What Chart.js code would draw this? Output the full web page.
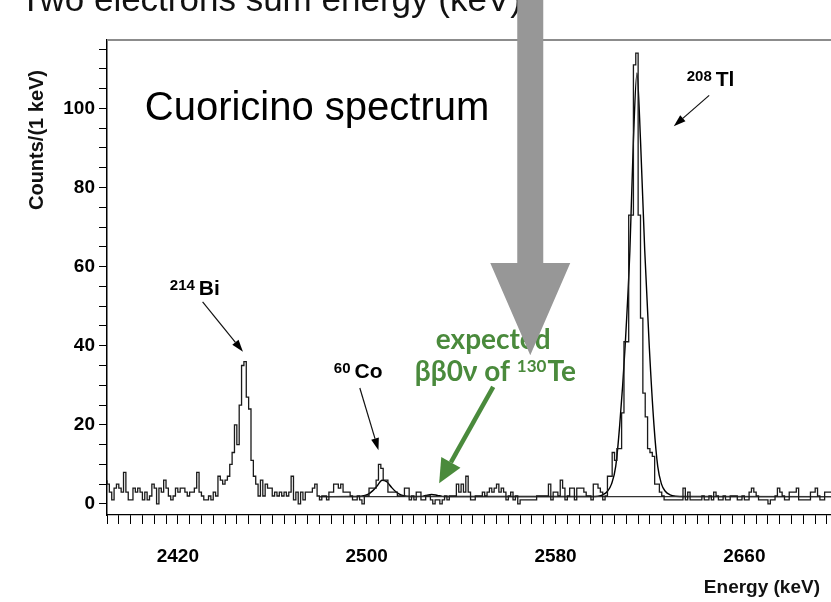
<!DOCTYPE html>
<html>
<head>
<meta charset="utf-8">
<title>Cuoricino spectrum</title>
<script src="https://cdn.jsdelivr.net/npm/chart.js@4/dist/chart.umd.min.js"></script>
<style>
  html, body { margin: 0; padding: 0; background: #fff; overflow: hidden; }
  canvas { display: block; }
</style>
</head>
<body>
<canvas id="spectrum" width="831" height="602"></canvas>
<script>
// histogram: 1 keV bins starting at binStart
const binStart = 2390;
const counts = [
  6, 5, 3, 1, 4, 5, 4, 3, 8, 3,        // 2390
  1, 1, 4, 3, 4, 3, 1, 3, 1, 2,        // 2400
  5, 4, 0, 4, 3, 6, 4, 2, 1, 2,        // 2410
  4, 3, 4, 4, 3, 2, 3, 3, 4, 8,        // 2420
  3, 2, 1, 1, 2, 1, 3, 2, 7, 6,        // 2430
  5, 6, 7, 10, 13, 20, 15, 25, 35, 36, // 2440
  27, 24, 11, 7, 5, 2, 6, 2, 5, 4,     // 2450
  4, 2, 3, 2, 3, 2, 3, 2, 3, 7,        // 2460
  1, 3, 0, 3, 1, 3, 3, 3, 4, 5,        // 2470
  2, 1, 2, 2, 1, 3, 3, 5, 5, 4,        // 2480
  5, 3, 3, 3, 2, 1, 1, 2, 1, 0,        // 2490
  2, 2, 4, 4, 4, 6, 10, 9, 6, 6,       // 2500
  3, 3, 3, 3, 2, 2, 2, 4, 4, 1,        // 2510
  2, 1, 3, 3, 1, 1, 2, 2, 1, 0,        // 2520
  1, 1, 0, 1, 2, 1, 2, 2, 2, 5,        // 2530
  3, 5, 3, 7, 3, 1, 1, 2, 2, 2,        // 2540
  3, 2, 3, 4, 3, 4, 5, 3, 4, 3,        // 2550
  1, 2, 3, 1, 2, 0, 1, 1, 1, 1,        // 2560
  1, 1, 1, 2, 2, 2, 2, 2, 5, 1,        // 2570
  3, 3, 2, 6, 4, 1, 2, 4, 4, 1,        // 2580
  4, 4, 4, 3, 2, 2, 1, 5, 5, 4,        // 2590
  3, 1, 2, 7, 7, 13, 11, 14, 14, 23,   // 2600
  41, 41, 73, 73, 111, 114, 73, 47, 28, 22, // 2610
  14, 13, 12, 5, 5, 3, 2, 1, 1, 1,     // 2620
  1, 1, 1, 1, 1, 4, 1, 3, 1, 1,        // 2630
  1, 1, 1, 2, 1, 1, 2, 1, 3, 2,        // 2640
  1, 1, 2, 1, 1, 2, 2, 2, 1, 1,        // 2650
  2, 1, 1, 3, 4, 3, 2, 1, 1, 1,        // 2660
  1, 0, 1, 1, 2, 4, 3, 2, 1, 1,        // 2670
  3, 3, 3, 4, 1, 1, 1, 1, 1, 3,        // 2680
  3, 4, 2, 1, 1, 3, 3                  // 2690
];

// best fit curve (energy, counts)
const fitEnergy = [2480, 2494, 2497.5, 2500.5, 2502.5, 2504.5, 2506.5, 2508.5, 2510.5, 2512.5, 2514.5, 2517.5, 2520.5,
  2523, 2525, 2527.5, 2530, 2532, 2535,
  2595, 2598, 2600, 2602, 2603.7, 2605.5, 2607.2, 2609.5, 2611.5, 2613, 2614.5, 2616, 2617.8,
  2619.7, 2621.7, 2623.3, 2624.9, 2626.5, 2628.5, 2631, 2635, 2696.7];
const fitCounts = [1.85, 1.86, 1.95, 2.4, 3.3, 4.6, 6.0, 5.6, 4.2, 3.0, 2.3, 1.95, 1.86,
  1.9, 2.15, 2.4, 2.15, 1.92, 1.86,
  1.86, 1.95, 2.3, 3.2, 5, 9.5, 20, 40, 64, 92, 109, 92, 64,
  40, 20, 9.5, 5, 3.2, 2.3, 1.95, 1.86, 1.85];

// flat background component of the fit
const bkgEnergy = [2480, 2696.7];
const bkgCounts = [1.85, 1.85];

const xTickLabels = [2420, 2500, 2580, 2660];
const yTickLabels = [0, 20, 40, 60, 80, 100];

const SANS = "'Liberation Sans', Arial, Helvetica, sans-serif";
const GREEN = '#4a8a3c';

const histPoints = counts.map((c, i) => ({ x: binStart + i, y: c }));
histPoints.push({ x: binStart + counts.length, y: counts[counts.length - 1] });

// keep only ticks on whole multiples of 5
const onFives = s => {
  s.ticks = s.ticks
    .filter(t => Math.abs(t.value / 5 - Math.round(t.value / 5)) < 1e-6)
    .map(t => ({ value: Math.round(t.value) }));
};

function arrow(ctx, x0, y0, x1, y1, len, half) {
  const a = Math.atan2(y1 - y0, x1 - x0);
  const bx = x1 - len * Math.cos(a), by = y1 - len * Math.sin(a);
  ctx.beginPath();
  ctx.moveTo(x0, y0);
  ctx.lineTo(bx, by);
  ctx.stroke();
  ctx.beginPath();
  ctx.moveTo(x1, y1);
  ctx.lineTo(bx + half * Math.sin(a), by - half * Math.cos(a));
  ctx.lineTo(bx - half * Math.sin(a), by + half * Math.cos(a));
  ctx.closePath();
  ctx.fill();
}

function isotope(ctx, mass, name, x, base) {
  ctx.font = 'bold 15px ' + SANS;
  ctx.fillText(mass, x, base - 5);
  const w = ctx.measureText(mass).width;
  ctx.font = 'bold 21px ' + SANS;
  ctx.fillText(name, x + w + 4, base);
}

const overlay = {
  id: 'overlay',
  afterDraw(chart) {
    const { ctx, chartArea, scales: { x, y } } = chart;
    const px = e => x.getPixelForValue(e);
    const py = c => y.getPixelForValue(c);
    ctx.save();

    // top edge of the frame
    ctx.strokeStyle = '#8c8c8c';
    ctx.lineWidth = 2;
    ctx.beginPath();
    ctx.moveTo(chartArea.left, chartArea.top);
    ctx.lineTo(chartArea.right, chartArea.top);
    ctx.stroke();

    // slide heading, cut by the top of the page
    ctx.fillStyle = '#111';
    ctx.textAlign = 'left';
    ctx.textBaseline = 'alphabetic';
    ctx.font = '35px ' + SANS;
    ctx.fillText('Two electrons sum energy (keV)', 20, 11);

    // axis titles
    ctx.font = 'bold 20px ' + SANS;
    ctx.save();
    ctx.translate(43, 140);
    ctx.rotate(-Math.PI / 2);
    ctx.textAlign = 'center';
    ctx.fillText('Counts/(1 keV)', 0, 0);
    ctx.restore();
    ctx.font = 'bold 19px ' + SANS;
    ctx.textAlign = 'right';
    ctx.fillText('Energy (keV)', 820, 593);
    ctx.textAlign = 'left';

    ctx.font = '40px ' + SANS;
    ctx.fillStyle = '#000';
    ctx.fillText('Cuoricino spectrum', px(2406), py(97));

    // peak labels
    ctx.strokeStyle = '#111';
    ctx.lineWidth = 1.2;
    isotope(ctx, '214', 'Bi', px(2416.6), py(52.8));
    arrow(ctx, px(2430.5), py(51.1), px(2447.6), py(38.5), 12, 4);
    isotope(ctx, '60', 'Co', px(2486.1), py(31.8));
    arrow(ctx, px(2497.1), py(29.3), px(2505), py(13.6), 12, 4);
    isotope(ctx, '208', 'Tl', px(2635.6), py(105.6));
    arrow(ctx, px(2645.1), py(103.3), px(2630.1), py(95.5), 12, 4);

    // expected signal position
    ctx.fillStyle = GREEN;
    ctx.strokeStyle = GREEN;
    const greenFont = "'Lato', 'Open Sans', 'DejaVu Sans', sans-serif";
    ctx.font = 'bold 28px ' + greenFont;
    ctx.fillText('expected', px(2529.3), py(39.1));
    let gx = px(2520.4);
    const gy = py(31.1);
    ctx.fillText('ββ0ν of ', gx, gy);
    gx += ctx.measureText('ββ0ν of ').width;
    ctx.font = 'bold 17px ' + greenFont;
    ctx.fillText('130', gx, gy - 9);
    gx += ctx.measureText('130').width + 1;
    ctx.font = 'bold 28px ' + greenFont;
    ctx.fillText('Te', gx, gy);
    ctx.lineWidth = 4.5;
    arrow(ctx, px(2553.6), py(29.6), px(2530.7), py(5.2), 24, 11);

    // big grey pointer
    const cx = px(2569.3);
    const headY = py(60.9);
    const tipY = py(37.6);
    ctx.fillStyle = '#979797';
    ctx.beginPath();
    ctx.moveTo(cx - 13, -5);
    ctx.lineTo(cx + 13, -5);
    ctx.lineTo(cx + 13, headY);
    ctx.lineTo(cx + 40, headY);
    ctx.lineTo(cx, tipY);
    ctx.lineTo(cx - 40, headY);
    ctx.lineTo(cx - 13, headY);
    ctx.closePath();
    ctx.fill();

    ctx.restore();
  }
};

new Chart(document.getElementById('spectrum'), {
  type: 'line',
  data: {
    datasets: [
      {
        data: histPoints,
        stepped: 'after',
        borderColor: '#1a1a1a',
        borderWidth: 1.3,
        pointRadius: 0
      },
      {
        data: bkgEnergy.map((e, i) => ({ x: e, y: bkgCounts[i] })),
        borderColor: '#333',
        borderWidth: 1.2,
        pointRadius: 0
      },
      {
        data: fitEnergy.map((e, i) => ({ x: e, y: fitCounts[i] })),
        borderColor: '#000',
        borderWidth: 1.4,
        pointRadius: 0,
        cubicInterpolationMode: 'monotone'
      }
    ]
  },
  options: {
    responsive: false,
    devicePixelRatio: 1,
    animation: false,
    layout: { padding: { top: 40, right: 0, bottom: 0, left: 0 } },
    plugins: { legend: { display: false }, tooltip: { enabled: false } },
    scales: {
      x: {
        type: 'linear',
        min: 2390,
        max: 2696.7,
        afterFit: s => { s.height = 87; s.paddingLeft = 0; s.paddingRight = 0; },
        afterBuildTicks: onFives,
        grid: { drawOnChartArea: false, tickLength: 9, color: '#000', lineWidth: 1 },
        border: { display: true, color: '#000', width: 1.2 },
        ticks: {
          stepSize: 5,
          includeBounds: false,
          maxTicksLimit: 200,
          autoSkip: false,
          maxRotation: 0,
          padding: 21,
          color: '#000',
          font: { family: SANS, size: 19, weight: 'bold' },
          callback: v => xTickLabels.includes(v) ? String(v) : ''
        }
      },
      y: {
        min: -2.8,
        max: 117.3,
        afterFit: s => { s.width = 107; s.paddingTop = 0; s.paddingBottom = 0; },
        afterBuildTicks: onFives,
        grid: { drawOnChartArea: false, tickLength: 8, color: '#000', lineWidth: 1 },
        border: { display: true, color: '#000', width: 1.5 },
        ticks: {
          stepSize: 5,
          includeBounds: false,
          maxTicksLimit: 200,
          autoSkip: false,
          padding: 4,
          color: '#000',
          font: { family: SANS, size: 19, weight: 'bold' },
          callback: v => yTickLabels.includes(v) ? String(v) : ''
        }
      }
    }
  },
  plugins: [overlay]
});
</script>
</body>
</html>
